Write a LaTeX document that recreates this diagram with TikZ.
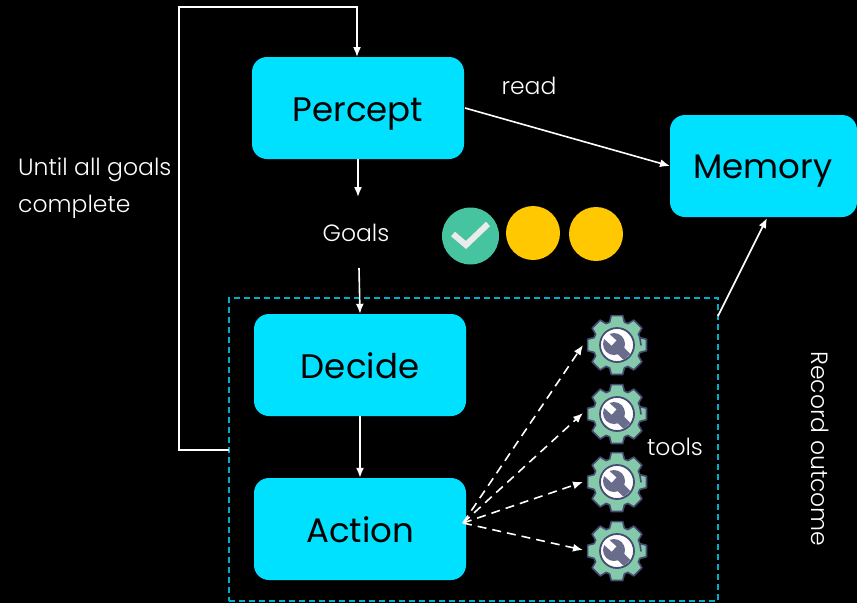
\documentclass[tikz,border=0pt]{standalone}
\usepackage{fontspec}
\setmainfont{Poppins Light}
\newfontfamily\boxfont{Poppins}
\usetikzlibrary{positioning,arrows.meta}
\definecolor{boxcyan}{HTML}{00E0FF}
\definecolor{dashteal}{HTML}{00AEC7}
\definecolor{donegreen}{HTML}{46C4A0}
\definecolor{waityellow}{HTML}{FFC800}
\definecolor{gearfill}{HTML}{84C9AA}
\definecolor{gearline}{HTML}{474A72}
\definecolor{wrenchfill}{HTML}{6A6C8C}
\tikzset{
  stagebox/.style={draw=none, fill=boxcyan, rounded corners=15pt, minimum width=212pt, minimum height=102pt, text=black},
  stagetext/.style={text=black, font=\boxfont\fontsize{34}{40}\selectfont, inner sep=0pt},
  lbl/.style={text=white, font=\fontsize{23.5}{30}\selectfont, inner sep=0pt},
  link/.style={draw=white, line width=1.6pt, -{Latex[length=10pt,width=8pt]}},
  toolarrow/.style={link, dash pattern=on 9pt off 6pt},
  gear/.pic={
    \fill[gearfill, draw=gearline, line width=1.6pt, line join=round]
      (0:24)
      \foreach \a in {0,45,...,315} {
        -- (\a-18:24) -- (\a-11:30) -- (\a+11:30) -- (\a+18:24) -- (\a+27:24)
      } -- cycle;
    \fill[white, draw=gearline, line width=1.8pt] (0,0) circle (17);
    \begin{scope}
      \clip (0,0) circle (16);
      \fill[wrenchfill] (-3,-1) circle (11);
      \draw[wrenchfill, line width=9pt] (-3,-1) -- (10,12);
      \draw[white, line width=7pt] (-13,-11) -- (-3,-2);
    \end{scope}
  },
}
\begin{document}
\begin{tikzpicture}[x=1pt, y=-1pt]
\useasboundingbox[fill=black] (0,0) rectangle (857,603);
% boxes
\node[stagebox] (percept) at (358,108) {};
\node[stagebox, minimum width=187pt] (memory) at (763.5,166) {};
\node[stagebox] (decide) at (360,365) {};
\node[stagebox] (action) at (360,529) {};
\node[stagetext] (percepttext) at (358,114) {Percept};
\node[stagetext] (memorytext) at (763,171) {Memory};
\node[stagetext] (decidetext) at (360,366) {Decide};
\node[stagetext] (actiontext) at (360,530) {Action};
\node[draw=dashteal, line width=1.6pt, dash pattern=on 6pt off 4pt, minimum width=489pt, minimum height=303pt, inner sep=0pt] (group) at (473.5,449.5) {};
% texts
\node[lbl] (goals) at (356,233) {Goals};
\node[lbl] (read) at (529,86) {read};
\node[lbl] (tools) at (675,447) {tools};
\node[lbl, anchor=base west] (untilone) at (18,175) {Until all goals};
\node[lbl, anchor=base west] (untiltwo) at (18,212) {complete};
\node[lbl, rotate=-90] (record) at (820,449) {Record outcome};
% goal dots
\node[circle, fill=donegreen, minimum size=57pt, inner sep=0pt] (dotdone) at (470.5,236) {};
\node[circle, fill=waityellow, minimum size=54pt, inner sep=0pt] (dotone) at (533,233) {};
\node[circle, fill=waityellow, minimum size=54pt, inner sep=0pt] (dottwo) at (596,234) {};
\draw[white!92!black, line width=6pt] (453,234) -- (466,245) -- (488,224);
% tools
\pic (gearone) at (617,345) {gear};
\pic (geartwo) at (617,414) {gear};
\pic (gearthree) at (617,482) {gear};
\pic (gearfour) at (617,551) {gear};
\coordinate (toolone) at (583,345);
\coordinate (tooltwo) at (583,413);
\coordinate (toolthree) at (583,482);
\coordinate (toolfour) at (583,550);
\coordinate (actionout) at (463,523);
\draw[toolarrow] (actionout) -- (toolone);
\draw[toolarrow] (actionout) -- (tooltwo);
\draw[toolarrow] (actionout) -- (toolthree);
\draw[toolarrow] (actionout) -- (toolfour);
% connectors
\coordinate (loopleft) at (229,450);
\coordinate (perceptin) at (357,57);
\draw[link] (loopleft) -- (179,450) -- (179,7) -- (357,7) -- (perceptin);
\coordinate (perceptout) at (465,108);
\coordinate (memoryin) at (670,166);
\draw[link] (perceptout) -- (memoryin);
\coordinate (groupout) at (718,316);
\coordinate (memoryup) at (767,218);
\draw[link] (groupout) -- (memoryup);
\coordinate (goalsin) at (358,197);
\coordinate (goalsout) at (359,268);
\draw[link] (percept.south) -- (goalsin);
\draw[link] (goalsout) -- (decide.north);
\draw[link] (decide) -- (action);
\end{tikzpicture}
\end{document}
